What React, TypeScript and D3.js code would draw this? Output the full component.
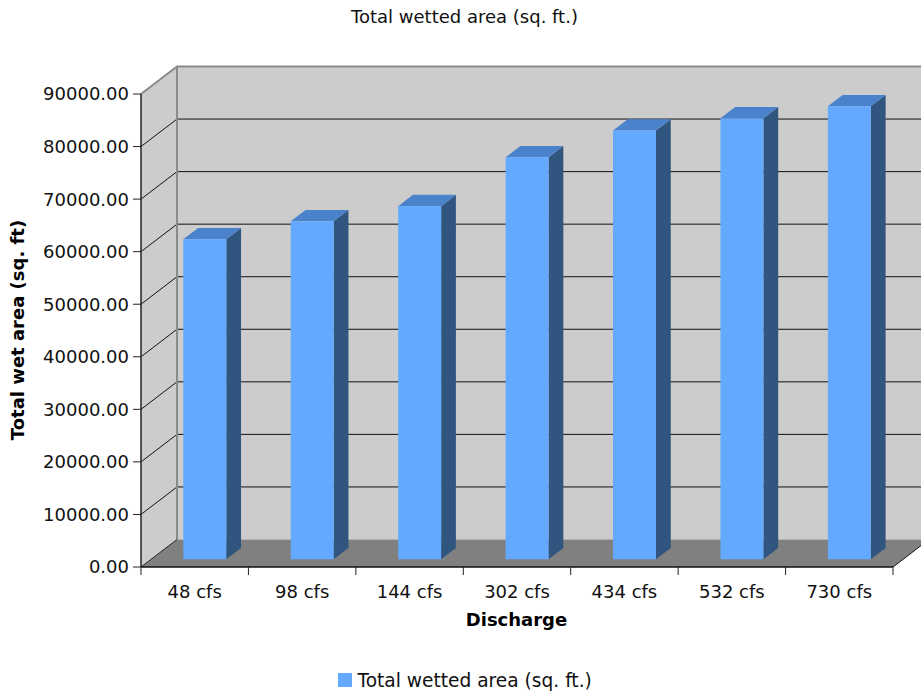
import React from "react";
import * as d3 from "d3";

const categories = ["48 cfs", "98 cfs", "144 cfs", "302 cfs", "434 cfs", "532 cfs", "730 cfs"];
const values = [60900, 64300, 67200, 76500, 81600, 83900, 86200];
const yTicks = [0, 10000, 20000, 30000, 40000, 50000, 60000, 70000, 80000, 90000];
const chartTitle = "Total wetted area (sq. ft.)";
const yTitle = "Total wet area (sq. ft)";
const xTitle = "Discharge";
const seriesName = "Total wetted area (sq. ft.)";

const W = 921;
const H = 696;
const left = 141;
const right = 893;
const bottom = 567;
const top = 94;
const depthX = 36;
const depthY = 27.5;
const barFront = 0.28;
const barBack = 0.69;
const font = "'DejaVu Sans', Verdana, sans-serif";
const fs = 18;

export default function App() {
  const x = d3.scaleBand<string>().domain(categories).range([left, right]).paddingInner(0).paddingOuter(0);
  const xb = d3.scaleBand<string>().domain(categories).range([left, right]).paddingInner(0.6).paddingOuter(0.3);
  const y = d3.scaleLinear().domain([0, 90000]).range([bottom, top]);
  const y0 = y(0);
  const yTop = y(90000);
  const bx = right + depthX;

  const fdx = barFront * depthX, fdy = barFront * depthY;
  const kdx = barBack * depthX, kdy = barBack * depthY;

  return (
    <svg width={W} height={H} style={{ position: "absolute", left: 0, top: 0, display: "block" }} fontFamily={font}>
      <rect x={0} y={0} width={W} height={H} fill="#ffffff" />
      <text x={464.5} y={22.5} textAnchor="middle" fontSize={fs} fill="#111">{chartTitle}</text>

      {/* side wall */}
      <polygon points={`${left},${yTop} ${left + depthX},${yTop - depthY} ${left + depthX},${y0 - depthY} ${left},${y0}`} fill="#cccccc" />
      {/* back wall */}
      <rect x={left + depthX} y={yTop - depthY} width={bx - left - depthX} height={y0 - yTop} fill="#cccccc" />
      {/* gridlines */}
      {yTicks.filter(t => t > 0 && t < 90000).map(t => (
        <g key={t}>
          <line x1={left} y1={y(t)} x2={left + depthX} y2={y(t) - depthY} stroke="#111" strokeWidth={1} />
          <line x1={left + depthX} y1={y(t) - depthY} x2={bx} y2={y(t) - depthY} stroke="#111" strokeWidth={1} />
        </g>
      ))}
      {/* wall borders */}
      <polyline points={`${left},${yTop} ${left + depthX},${yTop - depthY} ${bx},${yTop - depthY}`} fill="none" stroke="#8a8a8a" strokeWidth={2} />
      <line x1={left + depthX} y1={yTop - depthY} x2={left + depthX} y2={y0 - depthY} stroke="#8a8a8a" strokeWidth={2} />
      {/* floor */}
      <polygon points={`${left},${y0} ${right},${y0} ${bx},${y0 - depthY} ${left + depthX},${y0 - depthY}`} fill="#808080" />
      <line x1={left} y1={y0} x2={left + depthX} y2={y0 - depthY} stroke="#222" strokeWidth={1} />
      <line x1={right} y1={y0} x2={bx} y2={y0 - depthY} stroke="#111" strokeWidth={1} />

      {/* bars */}
      {categories.map((c, i) => {
        const x0 = (xb(c) as number) + fdx;
        const w = xb.bandwidth();
        const yb = y0 - fdy;
        const yt = y(values[i]) - fdy;
        const ddx = kdx - fdx, ddy = kdy - fdy;
        return (
          <g key={c}>
            <polygon points={`${x0 + w},${yb} ${x0 + w + ddx},${yb - ddy} ${x0 + w + ddx},${yt - ddy} ${x0 + w},${yt}`} fill="#30557f" />
            <polygon points={`${x0},${yt} ${x0 + ddx},${yt - ddy} ${x0 + w + ddx},${yt - ddy} ${x0 + w},${yt}`} fill="#4a82cc" />
            <rect x={x0} y={yt} width={w} height={yb - yt} fill="#62a9ff" />
          </g>
        );
      })}

      {/* y axis */}
      <line x1={left} y1={yTop} x2={left} y2={y0} stroke="#222" strokeWidth={1.5} />
      {yTicks.map(t => (
        <g key={t}>
          <line x1={left - 8} y1={y(t)} x2={left} y2={y(t)} stroke="#222" strokeWidth={1} />
          <text x={left - 12} y={y(t)} dy="0.36em" textAnchor="end" fontSize={fs} fill="#111">{t.toFixed(2)}</text>
        </g>
      ))}
      {/* x axis */}
      <line x1={left} y1={y0} x2={right} y2={y0} stroke="#111" strokeWidth={1.5} />
      {[...categories.map(c => x(c) as number), right].map((v, i) => (
        <line key={i} x1={v} y1={y0} x2={v} y2={y0 + 8} stroke="#222" strokeWidth={1} />
      ))}
      {categories.map(c => (
        <text key={c} x={(x(c) as number) + x.bandwidth() / 2} y={598} textAnchor="middle" fontSize={fs} fill="#111">{c}</text>
      ))}
      <text x={516.5} y={626} textAnchor="middle" fontSize={fs} fontWeight="bold" fill="#000">{xTitle}</text>
      <text transform={`translate(24,330) rotate(-90)`} textAnchor="middle" fontSize={fs} fontWeight="bold" fill="#000">{yTitle}</text>

      {/* legend */}
      <rect x={338} y={673} width={14} height={14} fill="#62a9ff" />
      <text x={357.5} y={687} fontSize={18.6} fill="#111">{seriesName}</text>
    </svg>
  );
}
